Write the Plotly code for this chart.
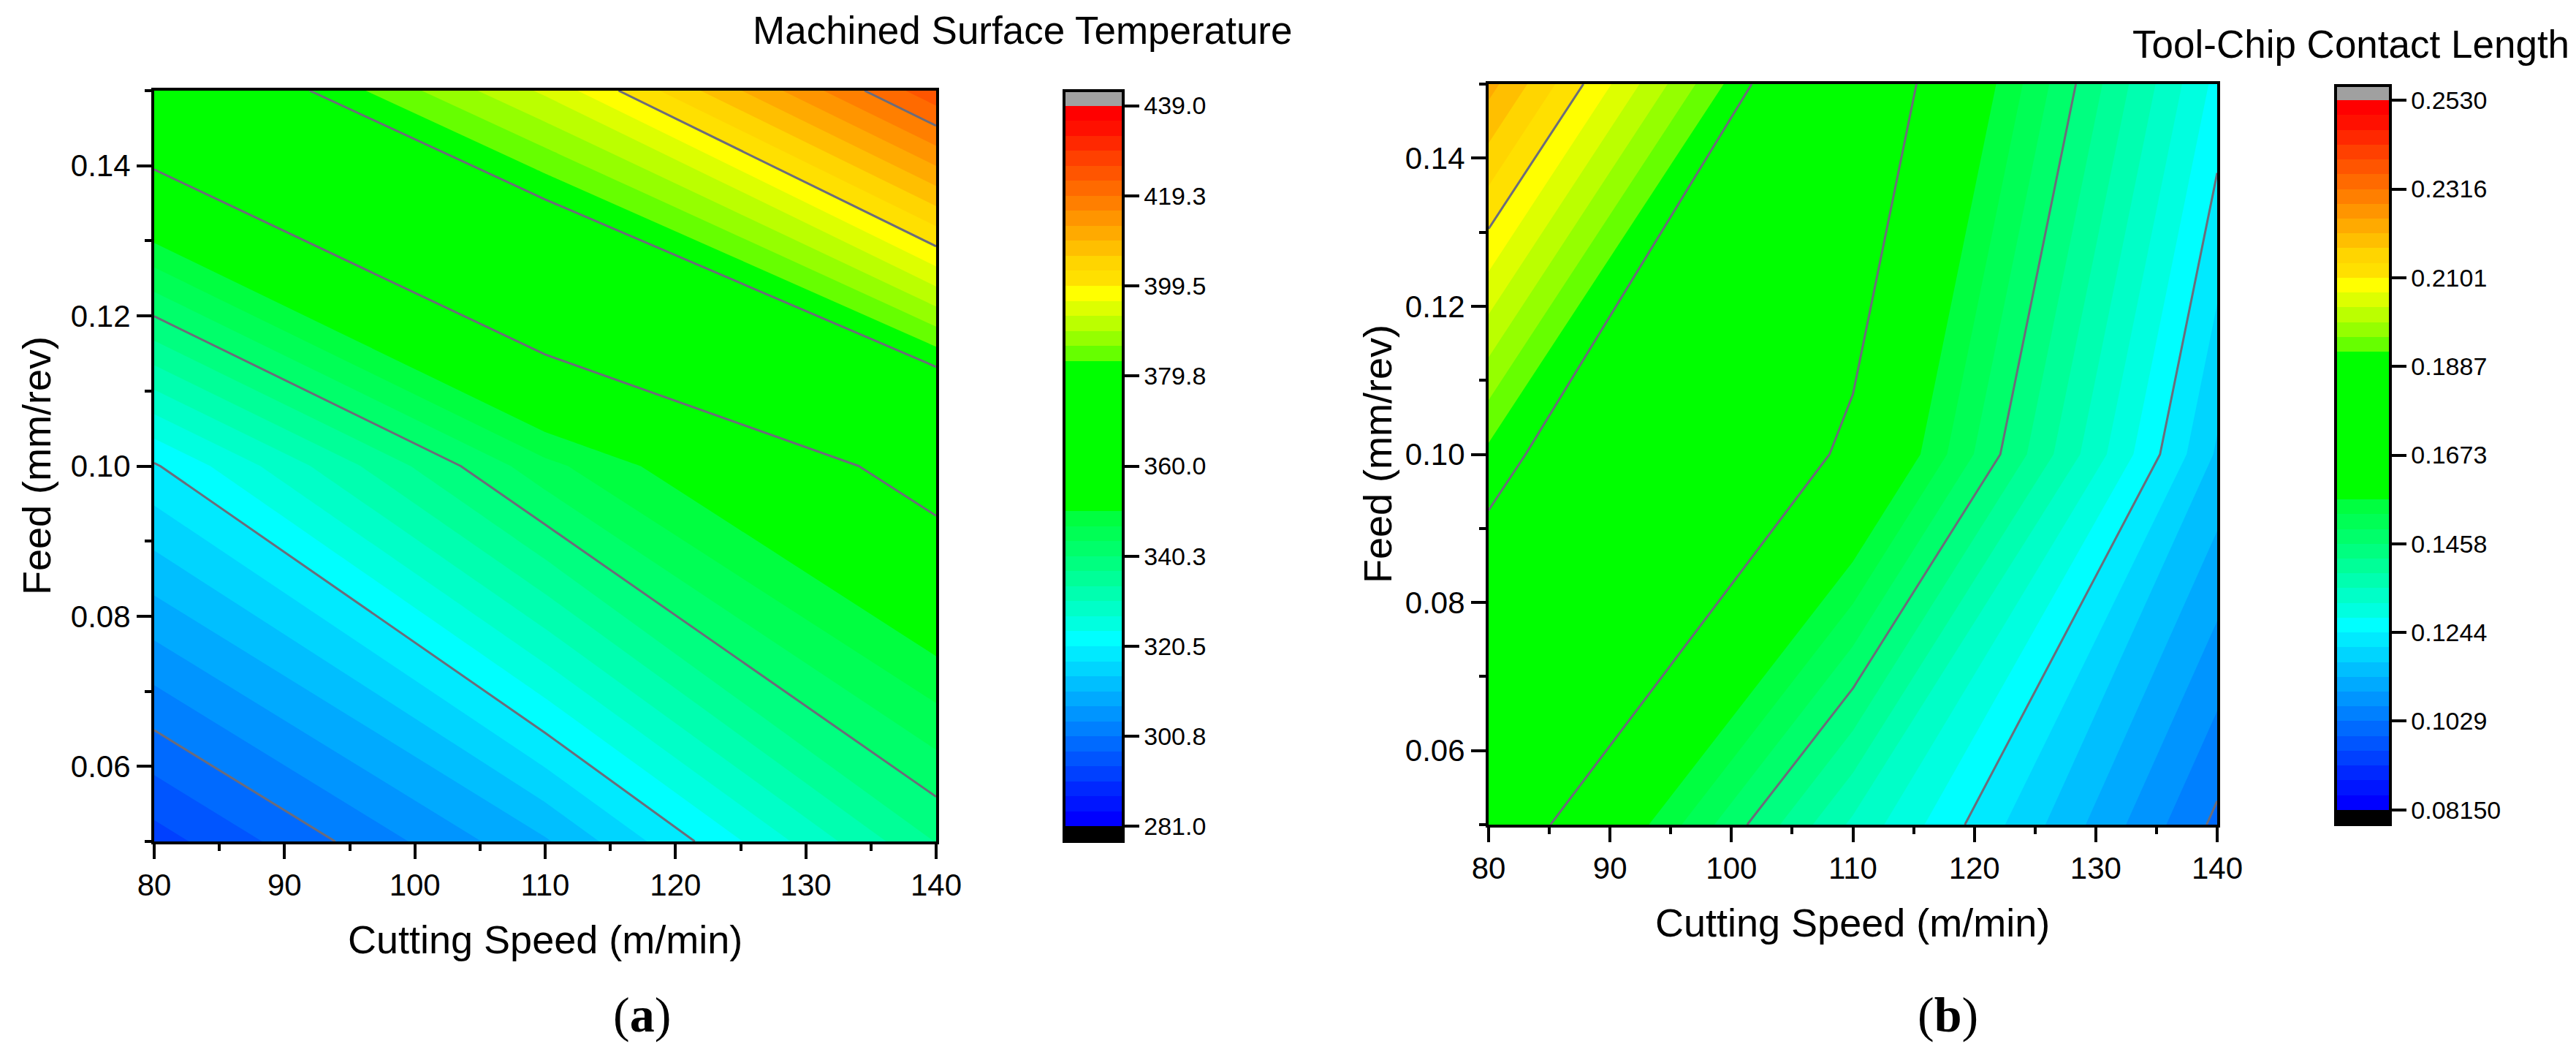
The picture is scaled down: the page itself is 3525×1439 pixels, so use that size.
import plotly.graph_objects as go

# ---------------- data ----------------
speed = [80, 110, 140]            # Cutting Speed (m/min)
feed = [0.05, 0.10, 0.15]         # Feed (mm/rev)

# rows follow `feed`, columns follow `speed`
temperature = [
    [292.6, 310.2, 337.1],
    [320.1, 345.8, 363.5],
    [370.6, 393.6, 425.0],
]
contact_length = [
    [0.1740, 0.1343, 0.1020],
    [0.1913, 0.1656, 0.1167],
    [0.2222, 0.1758, 0.1268],
]

temp_range = [281.0, 439.0]
contact_range = [0.08150, 0.2530]
temp_ticktext = ["281.0", "300.8", "320.5", "340.3", "360.0",
                 "379.8", "399.5", "419.3", "439.0"]
contact_ticktext = ["0.08150", "0.1029", "0.1244", "0.1458", "0.1673",
                    "0.1887", "0.2101", "0.2316", "0.2530"]

x_ticks = [80, 90, 100, 110, 120, 130, 140]
y_ticks = [0.06, 0.08, 0.10, 0.12, 0.14]

n_bands = 48          # fill levels in the colour bar
bands_per_line = 6    # a contour line every 6 fill levels

# colour of each fill band, bottom -> top
band_colors = (
    ["#0000FF", "#0015FF", "#0028FF", "#0040FF", "#0055FF", "#006AFF",
     "#0080FF", "#0095FF", "#00AAFF", "#00BFFF", "#00D5FF", "#00EAFF",
     "#00FFFF", "#00FFE0", "#00FFC8", "#00FFB0", "#00FF98", "#00FF80",
     "#00FF6A", "#00FF55", "#00FF40"]
    + ["#00FF00"] * 10
    + ["#66FF00", "#95FF00", "#BBFF00", "#DDFF00", "#FFFF00", "#FFE000",
       "#FFD500", "#FFBF00", "#FFAA00", "#FF9500", "#FF7F00", "#FF6A00",
       "#FF5500", "#FF4000", "#FF2800", "#FF1000", "#FF0000"]
)
below_color = "#000000"
above_color = "#A0A0A0"

# ---------------- figure geometry (pixels) ----------------
W, H = 3525, 1439
FONT = "Liberation Sans, Arial, Helvetica, sans-serif"
SERIF = "Liberation Serif, Times New Roman, serif"
LINE_COLOR = "#6C6C7A"


def px_x(v):
    return v / W


def px_y(v):
    return 1 - v / H


all_colors = [below_color] + band_colors + [above_color]
ncol = len(all_colors)
colorscale = [[i / (ncol - 1), c] for i, c in enumerate(all_colors)]

fig = go.Figure()


def add_panel(z, zr, ticktext, xa, ya, plot_px, cb_px, suffix):
    lo, hi = zr
    step = (hi - lo) / n_bands
    line_step = step * bands_per_line
    tickvals = [lo + k * line_step for k in range(len(ticktext))]
    x0, x1, y0, y1 = plot_px
    cbx0, cbx1, cby0, cby1 = cb_px
    fig.add_trace(go.Contour(
        x=speed, y=feed, z=z,
        xaxis=xa, yaxis=ya,
        autocontour=False,
        contours=dict(start=lo, end=hi, size=step, coloring="fill",
                      showlines=False),
        line=dict(width=0, smoothing=0),
        colorscale=colorscale,
        zmin=lo - step, zmax=hi + step,
        hoverinfo="skip",
        colorbar=dict(
            x=px_x(cbx0), xanchor="left",
            y=px_y(cby0 + 2), yanchor="top",
            len=cby1 - cby0 - 4, lenmode="pixels",
            thickness=cbx1 - cbx0 - 4, thicknessmode="pixels",
            xpad=0, ypad=0,
            outlinewidth=4, outlinecolor="black",
            tickmode="array", tickvals=tickvals, ticktext=ticktext,
            ticks="outside", ticklen=20, tickwidth=4, tickcolor="black",
            tickfont=dict(family=FONT, size=34, color="black"),
        ),
    ))
    fig.add_trace(go.Contour(
        x=speed, y=feed, z=z,
        xaxis=xa, yaxis=ya,
        autocontour=False,
        contours=dict(start=lo + line_step, end=hi - line_step * 0.999,
                      size=line_step, coloring="none", showlines=True),
        line=dict(width=3, color=LINE_COLOR, smoothing=0),
        showscale=False,
        hoverinfo="skip",
    ))
    axis_common = dict(
        showline=True, linewidth=4, linecolor="black", mirror=True,
        ticks="outside", ticklen=20, tickwidth=4, tickcolor="black",
        showgrid=False, zeroline=False,
        tickfont=dict(family=FONT, size=42, color="black"),
    )
    fig.update_layout(**{
        ("xaxis" + suffix): dict(
            domain=[px_x(x0), px_x(x1)], range=[speed[0], speed[-1]],
            anchor="y" + suffix, tickmode="array", tickvals=x_ticks,
            minor=dict(dtick=5, tick0=80, ticks="outside", ticklen=9,
                       tickwidth=4, tickcolor="black"),
            **axis_common),
        ("yaxis" + suffix): dict(
            domain=[px_y(y1), px_y(y0)], range=[feed[0], feed[-1]],
            anchor="x" + suffix, tickmode="array", tickvals=y_ticks,
            tickformat=".2f",
            minor=dict(dtick=0.01, tick0=0.05, ticks="outside", ticklen=9,
                       tickwidth=4, tickcolor="black"),
            **axis_common),
    })


add_panel(temperature, temp_range, temp_ticktext, "x", "y",
          (203, 1273, 116, 1143), (1448, 1533, 114, 1145), "")
add_panel(contact_length, contact_range, contact_ticktext, "x2", "y2",
          (2029, 3026, 107, 1120), (3188, 3267, 107, 1122), "2")

annotations = [
    dict(text="Machined Surface Temperature", x=px_x(1762), y=px_y(33),
         xanchor="right", yanchor="middle", font=dict(size=53)),
    dict(text="Tool-Chip Contact Length", x=px_x(3510), y=px_y(52),
         xanchor="right", yanchor="middle", font=dict(size=53)),
    dict(text="Cutting Speed (m/min)", x=px_x(738), y=px_y(1277),
         xanchor="center", yanchor="middle", font=dict(size=54)),
    dict(text="Cutting Speed (m/min)", x=px_x(2527), y=px_y(1254),
         xanchor="center", yanchor="middle", font=dict(size=54)),
    dict(text="Feed (mm/rev)", x=px_x(42), y=px_y(629), textangle=-90,
         xanchor="center", yanchor="middle", font=dict(size=54)),
    dict(text="Feed (mm/rev)", x=px_x(1877), y=px_y(613), textangle=-90,
         xanchor="center", yanchor="middle", font=dict(size=54)),
    dict(text="(<b>a</b>)", x=px_x(870), y=px_y(1380),
         xanchor="center", yanchor="middle",
         font=dict(family=SERIF, size=68)),
    dict(text="(<b>b</b>)", x=px_x(2657), y=px_y(1380),
         xanchor="center", yanchor="middle",
         font=dict(family=SERIF, size=68)),
]
for a in annotations:
    a.setdefault("showarrow", False)
    a["xref"] = "paper"
    a["yref"] = "paper"
    f = a["font"]
    f.setdefault("family", FONT)
    f.setdefault("color", "black")

fig.update_layout(
    width=W, height=H,
    margin=dict(l=0, r=0, t=0, b=0, autoexpand=False),
    paper_bgcolor="white", plot_bgcolor="white",
    showlegend=False,
    annotations=annotations,
    font=dict(family=FONT, color="black"),
)

fig.write_html("out.html")
